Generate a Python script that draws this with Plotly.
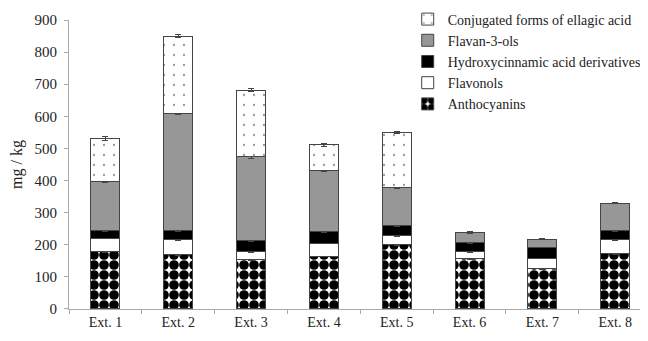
import plotly.graph_objects as go

categories = ["Ext. 1", "Ext. 2", "Ext. 3", "Ext. 4", "Ext. 5", "Ext. 6", "Ext. 7", "Ext. 8"]
anthocyanins = [180, 170, 153, 165, 201, 158, 125, 173]
flavonols = [40, 45, 25, 40, 27, 20, 33, 42]
hydroxycinnamic = [24, 28, 34, 36, 31, 28, 34, 28]
flavan3ols = [152, 366, 262, 190, 119, 32, 25, 86]
ellagic = [135, 240, 208, 80, 171, None, None, None]

err_anth = [3, 3, 3, 3, 3, 3, 3, 3]
err_flavonols = [2, 2, 2, 2, 2, 2, 2, 2]
err_hydro = [2, 2, 2, 2, 2, 2, 2, 2]
err_flavan = [3, 3, 4, 3, 3, 2, 2, 2]
err_ellagic = [5, 5, 5, 4, 3, None, None, None]

series = [
    ("Anthocyanins", anthocyanins, err_anth,
     dict(color="white", pattern=dict(shape=".", fgcolor="black", bgcolor="white", fgopacity=1,
                                      size=10, solidity=0.74, fillmode="replace"))),
    ("Flavonols", flavonols, err_flavonols, dict(color="white")),
    ("Hydroxycinnamic acid derivatives", hydroxycinnamic, err_hydro, dict(color="black")),
    ("Flavan-3-ols", flavan3ols, err_flavan, dict(color="#979797")),
    ("Conjugated forms of ellagic acid", ellagic, err_ellagic,
     dict(color="white", pattern=dict(shape=".", fgcolor="#999999", bgcolor="white", fgopacity=1,
                                      size=10, solidity=0.04, fillmode="replace"))),
]

fig = go.Figure()
for name, vals, errs, mk in series:
    mk = dict(mk)
    mk["line"] = dict(color="#444444", width=1)
    fig.add_trace(go.Bar(
        name=name, x=categories, y=vals, width=0.4, marker=mk,
        error_y=dict(type="data", array=errs, visible=True, color="#444444", thickness=1, width=3),
    ))

font = "Liberation Serif, Times New Roman, serif"
fig.update_layout(
    barmode="stack",
    width=640, height=333,
    margin=dict(l=61, r=0, t=0, b=32, autoexpand=False),
    paper_bgcolor="white", plot_bgcolor="white",
    font=dict(family=font, size=14, color="#222222"),
    showlegend=True,
    legend=dict(traceorder="reversed", x=0.585, y=1.015, xanchor="left", yanchor="top",
                font=dict(family=font, size=14, color="#222222"), bgcolor="rgba(0,0,0,0)",
                itemwidth=30),
    xaxis=dict(range=[-0.5, 7.45], showline=True, linecolor="#aaaaaa", linewidth=1,
               ticks="outside", tickson="boundaries", ticklen=4, tickcolor="#aaaaaa",
               showgrid=False, tickfont=dict(size=14)),
    yaxis=dict(range=[0, 900], dtick=100, domain=[0, 0.9601], showline=True, linecolor="#aaaaaa",
               linewidth=1, ticks="outside", ticklen=4, tickcolor="#aaaaaa", showgrid=False,
               zeroline=False, ticklabelstandoff=4,
               title=dict(text="mg / kg", font=dict(size=16), standoff=22), tickfont=dict(size=15)),
)

fig.write_html("out.html")
